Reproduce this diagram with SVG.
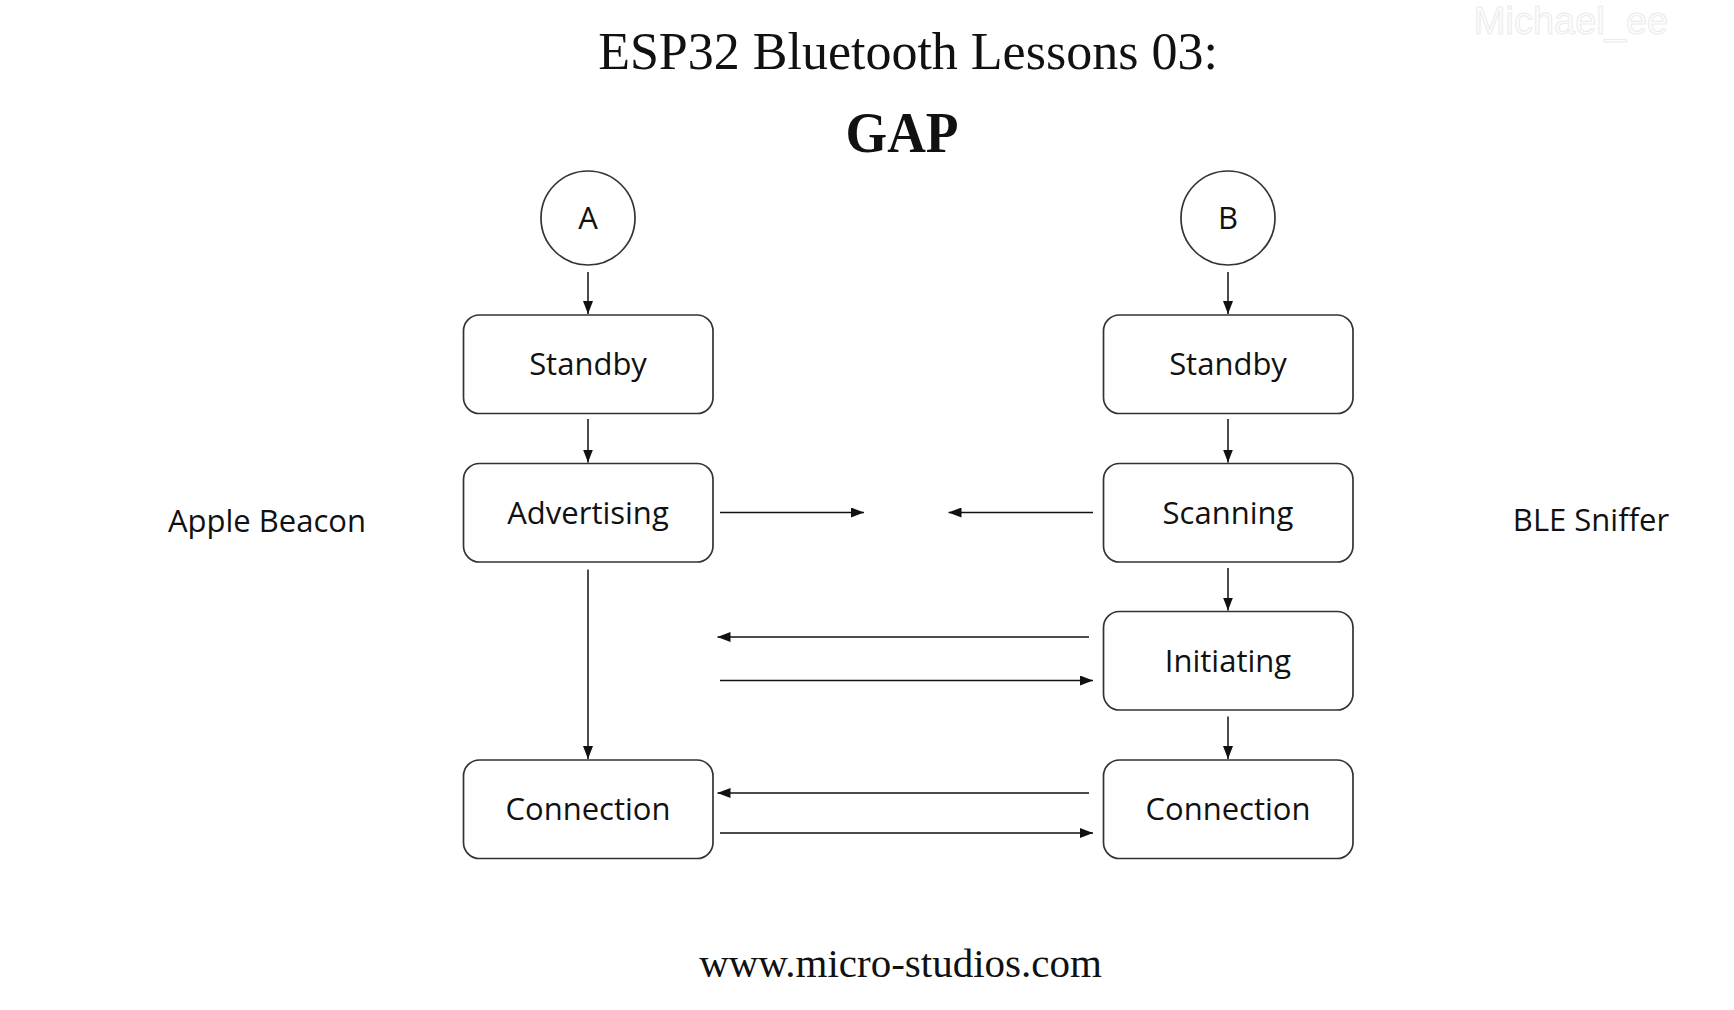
<svg xmlns="http://www.w3.org/2000/svg" width="1734" height="1010" viewBox="0 0 1734 1010">
<defs>
<marker id="ah" viewBox="0 0 13 10" refX="13" refY="5" markerWidth="13" markerHeight="10" markerUnits="userSpaceOnUse" orient="auto">
<path d="M0,0 L13,5 L0,10 Z" fill="#111"/>
</marker>
<style>
.box{fill:#fff;stroke:#333;stroke-width:1.7}
.circ{fill:#fff;stroke:#333;stroke-width:1.7}
.lbl{font-family:"Open Sans","Noto Sans",sans-serif;font-size:31px;fill:#111;text-anchor:middle}
.side{font-family:"Open Sans","Noto Sans",sans-serif;font-size:31px;fill:#111;text-anchor:middle}
.con line{stroke:#111;stroke-width:1.5;marker-end:url(#ah)}
.serif{font-family:"Liberation Serif","Times New Roman",serif;fill:#111;text-anchor:middle}
</style>
</defs>
<rect width="1734" height="1010" fill="#fff"/>
<text x="1571" y="34" font-family="Liberation Sans,Arial,sans-serif" font-size="38" fill="#fdfdfd" stroke="#ebebeb" stroke-width="1" text-anchor="middle">Michael_ee</text>
<text class="serif" x="908" y="68.5" font-size="52">ESP32 Bluetooth Lessons 03:</text>
<text class="serif" x="902" y="151.5" font-size="58" font-weight="bold" textLength="113" lengthAdjust="spacingAndGlyphs">GAP</text>
<text class="side" x="267" y="531.5">Apple Beacon</text>
<text class="side" x="1591" y="531">BLE Sniffer</text>
<g id="nodeA"><circle class="circ" cx="588" cy="218" r="47"/><text class="lbl" x="588" y="228.5">A</text></g>
<g id="nodeB"><circle class="circ" cx="1228" cy="218" r="47"/><text class="lbl" x="1228" y="228.5">B</text></g>
<g id="standbyA"><rect class="box" x="463.5" y="315" width="249.5" height="98.5" rx="16"/><text class="lbl" x="588" y="375">Standby</text></g>
<g id="standbyB"><rect class="box" x="1103.5" y="315" width="249.5" height="98.5" rx="16"/><text class="lbl" x="1228" y="375">Standby</text></g>
<g id="advertising"><rect class="box" x="463.5" y="463.5" width="249.5" height="98.5" rx="16"/><text class="lbl" x="588" y="523.5">Advertising</text></g>
<g id="scanning"><rect class="box" x="1103.5" y="463.5" width="249.5" height="98.5" rx="16"/><text class="lbl" x="1228" y="523.5">Scanning</text></g>
<g id="initiating"><rect class="box" x="1103.5" y="611.5" width="249.5" height="98.5" rx="16"/><text class="lbl" x="1228" y="671.5">Initiating</text></g>
<g id="connectionA"><rect class="box" x="463.5" y="760" width="249.5" height="98.5" rx="16"/><text class="lbl" x="588" y="820">Connection</text></g>
<g id="connectionB"><rect class="box" x="1103.5" y="760" width="249.5" height="98.5" rx="16"/><text class="lbl" x="1228" y="820">Connection</text></g>
<g id="connectors" class="con">
<line x1="588" y1="272" x2="588" y2="314"/>
<line x1="1228" y1="272" x2="1228" y2="314"/>
<line x1="588" y1="419" x2="588" y2="462.5"/>
<line x1="1228" y1="419" x2="1228" y2="462.5"/>
<line x1="1228" y1="568" x2="1228" y2="610.5"/>
<line x1="1228" y1="716.5" x2="1228" y2="759"/>
<line x1="588" y1="569.5" x2="588" y2="759"/>
<line x1="720" y1="512.5" x2="864" y2="512.5"/>
<line x1="1093" y1="512.5" x2="948.5" y2="512.5"/>
<line x1="1089" y1="637" x2="717.5" y2="637"/>
<line x1="720" y1="680.5" x2="1093" y2="680.5"/>
<line x1="1089" y1="793" x2="717.5" y2="793"/>
<line x1="720" y1="833" x2="1093" y2="833"/>
</g>
<text class="serif" x="900.5" y="976.5" font-size="41">www.micro-studios.com</text>
</svg>
